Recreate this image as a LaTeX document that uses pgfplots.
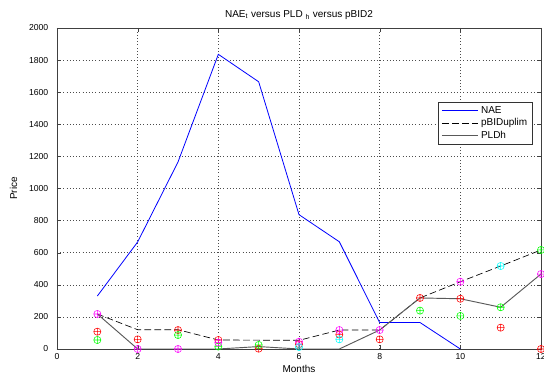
\documentclass[border=0pt]{standalone}
\usepackage{pgfplots}
\pgfplotsset{compat=1.18}
\usepackage{fontspec}
\setmainfont{Liberation Sans}
\usetikzlibrary{plotmarks}
\definecolor{mred}{rgb}{1,0,0}
\definecolor{mgreen}{rgb}{0,1,0}
\definecolor{mmag}{rgb}{1,0,1}
\definecolor{mcyan}{rgb}{0,1,1}
\definecolor{nae}{rgb}{0,0,1}
\begin{document}
\begin{tikzpicture}
\useasboundingbox (-42.75pt,-21pt) rectangle (365.25pt,261.75pt);
\begin{axis}[
  at={(0,0)}, anchor=south west,
  scale only axis, width=363pt, height=240.75pt,
  xmin=0, xmax=12, ymin=0, ymax=2000,
  xtick={0,2,...,12}, ytick={0,200,...,2000},
  tick align=inside, major tick length=3pt,
  grid=major, major grid style={black!70, dotted},
  axis line style={black!75},
  tick style={black!75},
  font=\fontsize{6.5}{7.5}\selectfont,
  /pgf/number format/assume math mode=true,
  /pgf/number format/1000 sep={},
  yticklabel style={xshift=-3pt},
  title={NAE\textsubscript{t} versus PLD \textsubscript{h} versus pBID2},
  title style={font=\fontsize{7.5}{8.5}\selectfont, yshift=-3pt},
  xlabel={Months}, ylabel={Price},
  xlabel style={font=\fontsize{7.5}{8.5}\selectfont, yshift=3pt},
  ylabel style={font=\fontsize{7.5}{8.5}\selectfont, yshift=2pt},
  legend style={at={(0.983,0.769)}, anchor=north east, draw=black!80, font=\fontsize{7.5}{8.5}\selectfont, inner xsep=2pt, inner ysep=1pt, row sep=-1.5pt, cells={anchor=west}},
  legend image code/.code={\draw[#1] (0cm,0cm) -- (0.95cm,0cm);},
]
\addplot[draw=nae, line width=0.6pt] coordinates {(1,330) (2,667) (3,1165) (4,1836) (5,1665) (6,837) (7,668) (8,165) (9,165) (10,0)};
\addlegendentry{NAE}
\addplot[draw=black, line width=0.5pt, dash pattern=on 5pt off 2.5pt] coordinates {(1,218) (2,120) (3,120) (4,56) (5,55) (6,54) (7,118) (8,118) (9,318) (10,419) (11,517) (12,617)};
\addlegendentry{pBIDuplim}
\addplot[draw=black!65, line width=0.7pt] coordinates {(1,218) (2,0) (3,0) (4,0) (5,15) (6,0) (7,0) (8,118) (9,318) (10,313) (11,260) (12,467)};
\addlegendentry{PLDh}
\addplot[only marks, mark=oplus, mark size=2.7pt, color=mred, forget plot] coordinates {(1,108) (2,60) (3,118) (4,56) (5,2) (6,30) (7,90) (8,60) (9,318) (10,313) (11,133) (12,0)};
\addplot[only marks, mark=oplus, mark size=2.7pt, color=mgreen, forget plot] coordinates {(1,56) (3,87) (4,15) (5,25) (9,239) (10,206) (11,260) (12,617)};
\addplot[only marks, mark=oplus, mark size=2.7pt, color=mmag, forget plot] coordinates {(1,218) (2,0) (3,0) (4,40) (6,45) (7,118) (8,118) (10,419) (12,467)};
\addplot[only marks, mark=oplus, mark size=2.7pt, color=mcyan, forget plot] coordinates {(6,12) (7,60) (11,517)};
\end{axis}
\end{tikzpicture}
\end{document}
